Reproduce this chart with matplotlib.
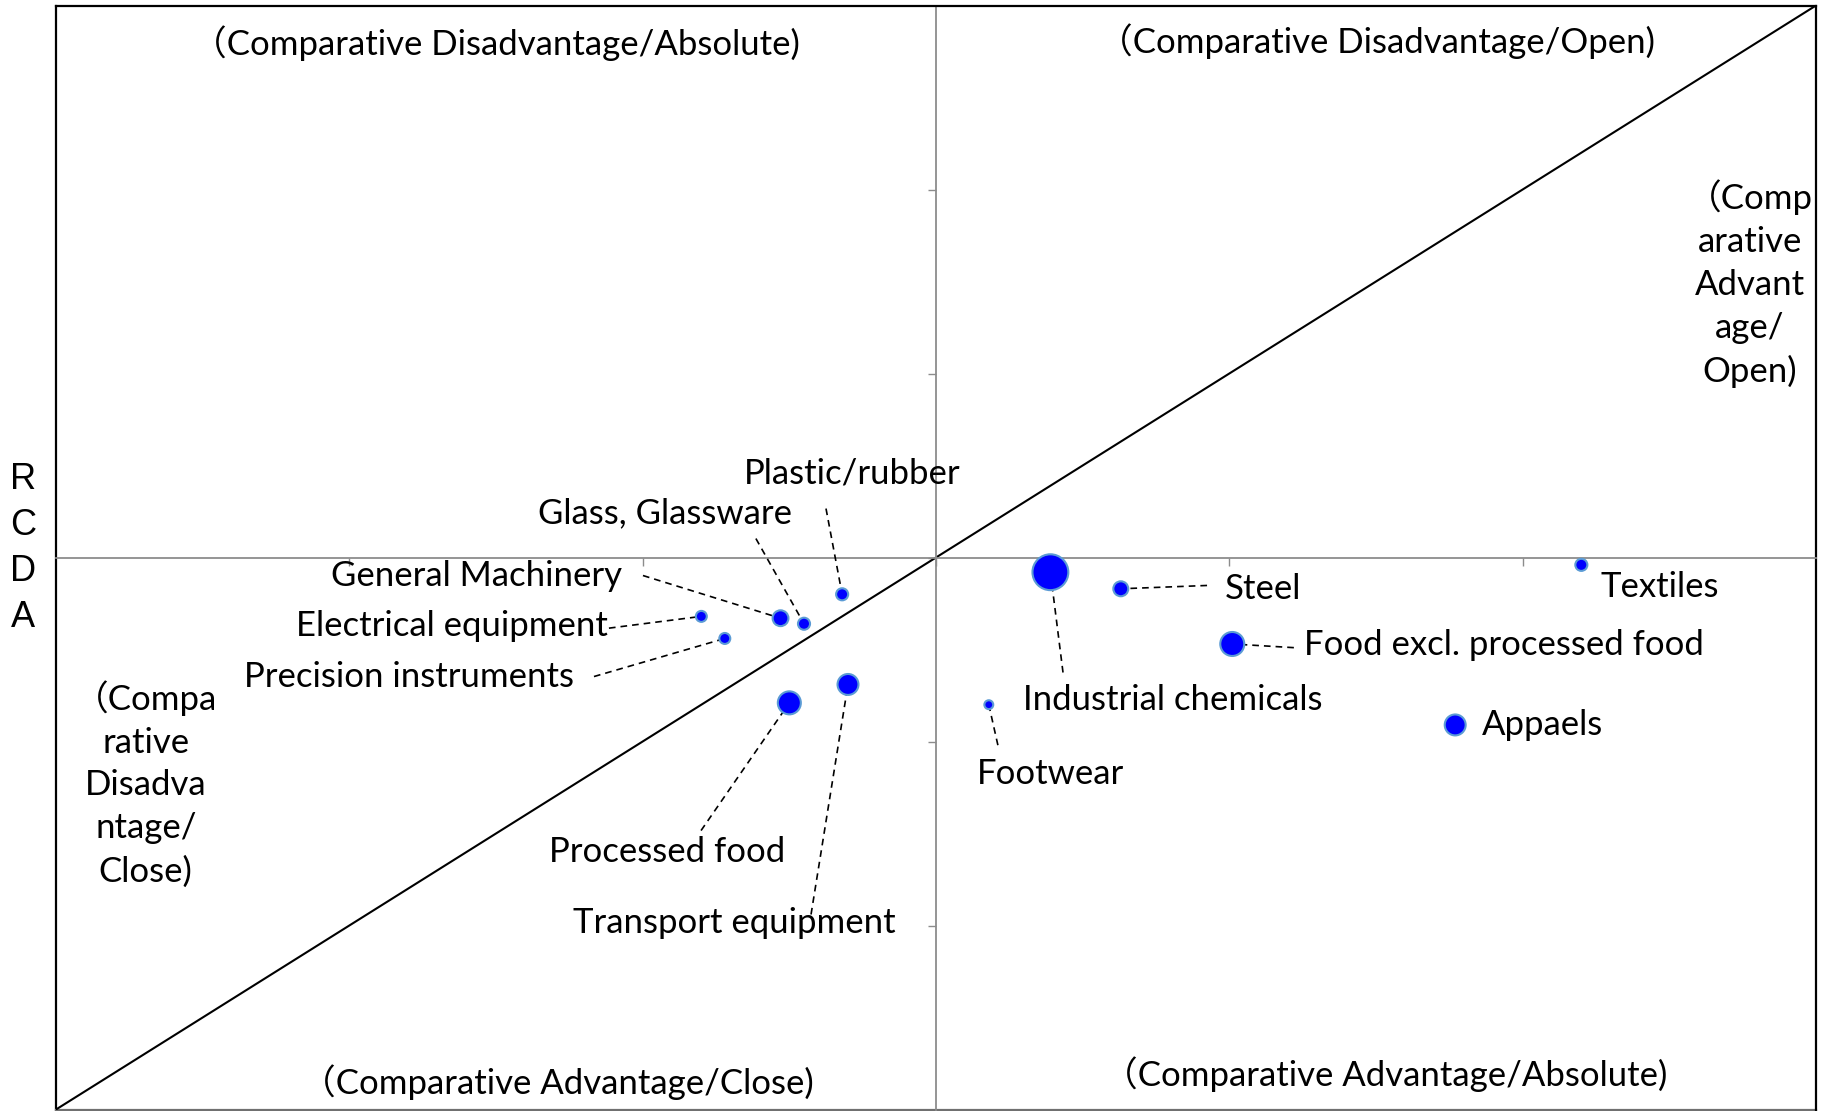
import numpy as np
import matplotlib
matplotlib.use("Agg")
import matplotlib.pyplot as plt

# sector data (RCA on x, RCDA on y, bubble = trade share)
sectors = ["Plastic/rubber", "Glass, Glassware", "General Machinery",
           "Electrical equipment", "Precision instruments", "Processed food",
           "Transport equipment", "Industrial chemicals", "Steel", "Textiles",
           "Food excl. processed food", "Footwear", "Appaels"]
rca = [-0.32, -0.45, -0.53, -0.80, -0.72, -0.50, -0.30, 0.39, 0.63, 2.20, 1.01, 0.18, 1.77]
rcda = [-0.20, -0.36, -0.33, -0.32, -0.44, -0.79, -0.69, -0.08, -0.17, -0.04, -0.47, -0.80, -0.91]
share = [2.0, 2.0, 3.2, 1.7, 1.7, 6.3, 5.3, 14.4, 2.9, 2.0, 6.8, 1.2, 5.3]

quadrants = ["（Comparative Disadvantage/Absolute)", "（Comparative Disadvantage/Open)",
             "（Comparative Advantage/Close)", "（Comparative Advantage/Absolute)",
             "（Comp\narative\nAdvant\nage/\nOpen)", "（Compa\nrative\nDisadva\nntage/\nClose)"]
ylabel = "R\nC\nD\nA"
lim = 3

# label layout: text anchor, alignment, leader line start (None = no leader)
LAYOUT = {
    "Plastic/rubber": ((-0.286, 0.457), "center", (-0.375, 0.266)),
    "Glass, Glassware": ((-0.924, 0.242), "center", (-0.614, 0.103)),
    "General Machinery": ((-1.568, -0.10), "center", (-0.999, -0.098)),
    "Electrical equipment": ((-1.651, -0.373), "center", (-1.115, -0.384)),
    "Precision instruments": ((-1.798, -0.652), "center", (-1.166, -0.647)),
    "Processed food": ((-0.915, -1.603), "center", (-0.801, -1.484)),
    "Transport equipment": ((-0.689, -1.984), "center", (-0.426, -1.94)),
    "Industrial chemicals": ((0.808, -0.777), "center", (0.433, -0.625)),
    "Steel": ((0.986, -0.17), "left", (0.924, -0.152)),
    "Textiles": ((2.267, -0.158), "left", None),
    "Food excl. processed food": ((1.253, -0.473), "left", (1.22, -0.49)),
    "Footwear": ((0.389, -1.174), "center", (0.211, -1.02)),
    "Appaels": ((1.862, -0.908), "left", None),
}
QPOS = [(0.250, 0.966), (0.750, 0.968), (0.285, 0.0245), (0.755, 0.032),
        (0.9625, 0.748), (0.051, 0.295)]

FONT = ["Lato", "Noto Sans CJK JP"]
FS = 25

fig = plt.figure(figsize=(18.3, 11.11), dpi=100)
ax = fig.add_axes([56 / 1830, 1.5 / 1111, 1760 / 1830, 1104 / 1111])
ax.set_xlim(-lim, lim)
ax.set_ylim(-lim, lim)

# quadrant axes through the origin
for s in ["left", "bottom"]:
    ax.spines[s].set_position(("data", 0))
    ax.spines[s].set_color("#8c8c8c")
    ax.spines[s].set_linewidth(1.3)
for s in ["top", "right"]:
    ax.spines[s].set_color("black")
    ax.spines[s].set_linewidth(1.6)
ax.set_xticks(np.arange(-lim + 1, lim))
ax.set_yticks(np.arange(-lim + 1, lim))
ax.tick_params(direction="out", length=6, width=1, color="#8c8c8c",
               labelbottom=False, labelleft=False)
# outer frame
ax.plot([0, 0], [0, 1], transform=ax.transAxes, color="black", lw=1.6, clip_on=False)
ax.plot([0, 1], [0, 0], transform=ax.transAxes, color="#707070", lw=1.6, clip_on=False)

ax.plot([-lim, lim], [-lim, lim], color="black", lw=1.5, zorder=2)

sizes = [(10 * np.sqrt(v) * 0.72 - 1.5) ** 2 for v in share]
ax.scatter(rca, rcda, s=sizes, color="#0000ff", edgecolor="#5b9bd5",
           linewidth=1.5, zorder=4)

for name, x, y in zip(sectors, rca, rcda):
    (tx, ty), ha, start = LAYOUT[name]
    ax.text(tx, ty, name, ha=ha, va="center", fontsize=FS, family=FONT, zorder=5)
    if start is not None:
        ax.plot([start[0], x], [start[1], y], color="black", lw=1.2,
                ls=(0, (4, 3)), zorder=3)

for q, (qx, qy) in zip(quadrants, QPOS):
    ax.text(qx, qy, q, transform=ax.transAxes, ha="center", va="center",
            fontsize=FS, family=FONT, linespacing=1.42, multialignment="center")

fig.text(23 / 1830, 0.506, ylabel, ha="center", va="center", fontsize=26,
         family="Liberation Sans", linespacing=1.41)

fig.savefig("out.png", dpi=100)
